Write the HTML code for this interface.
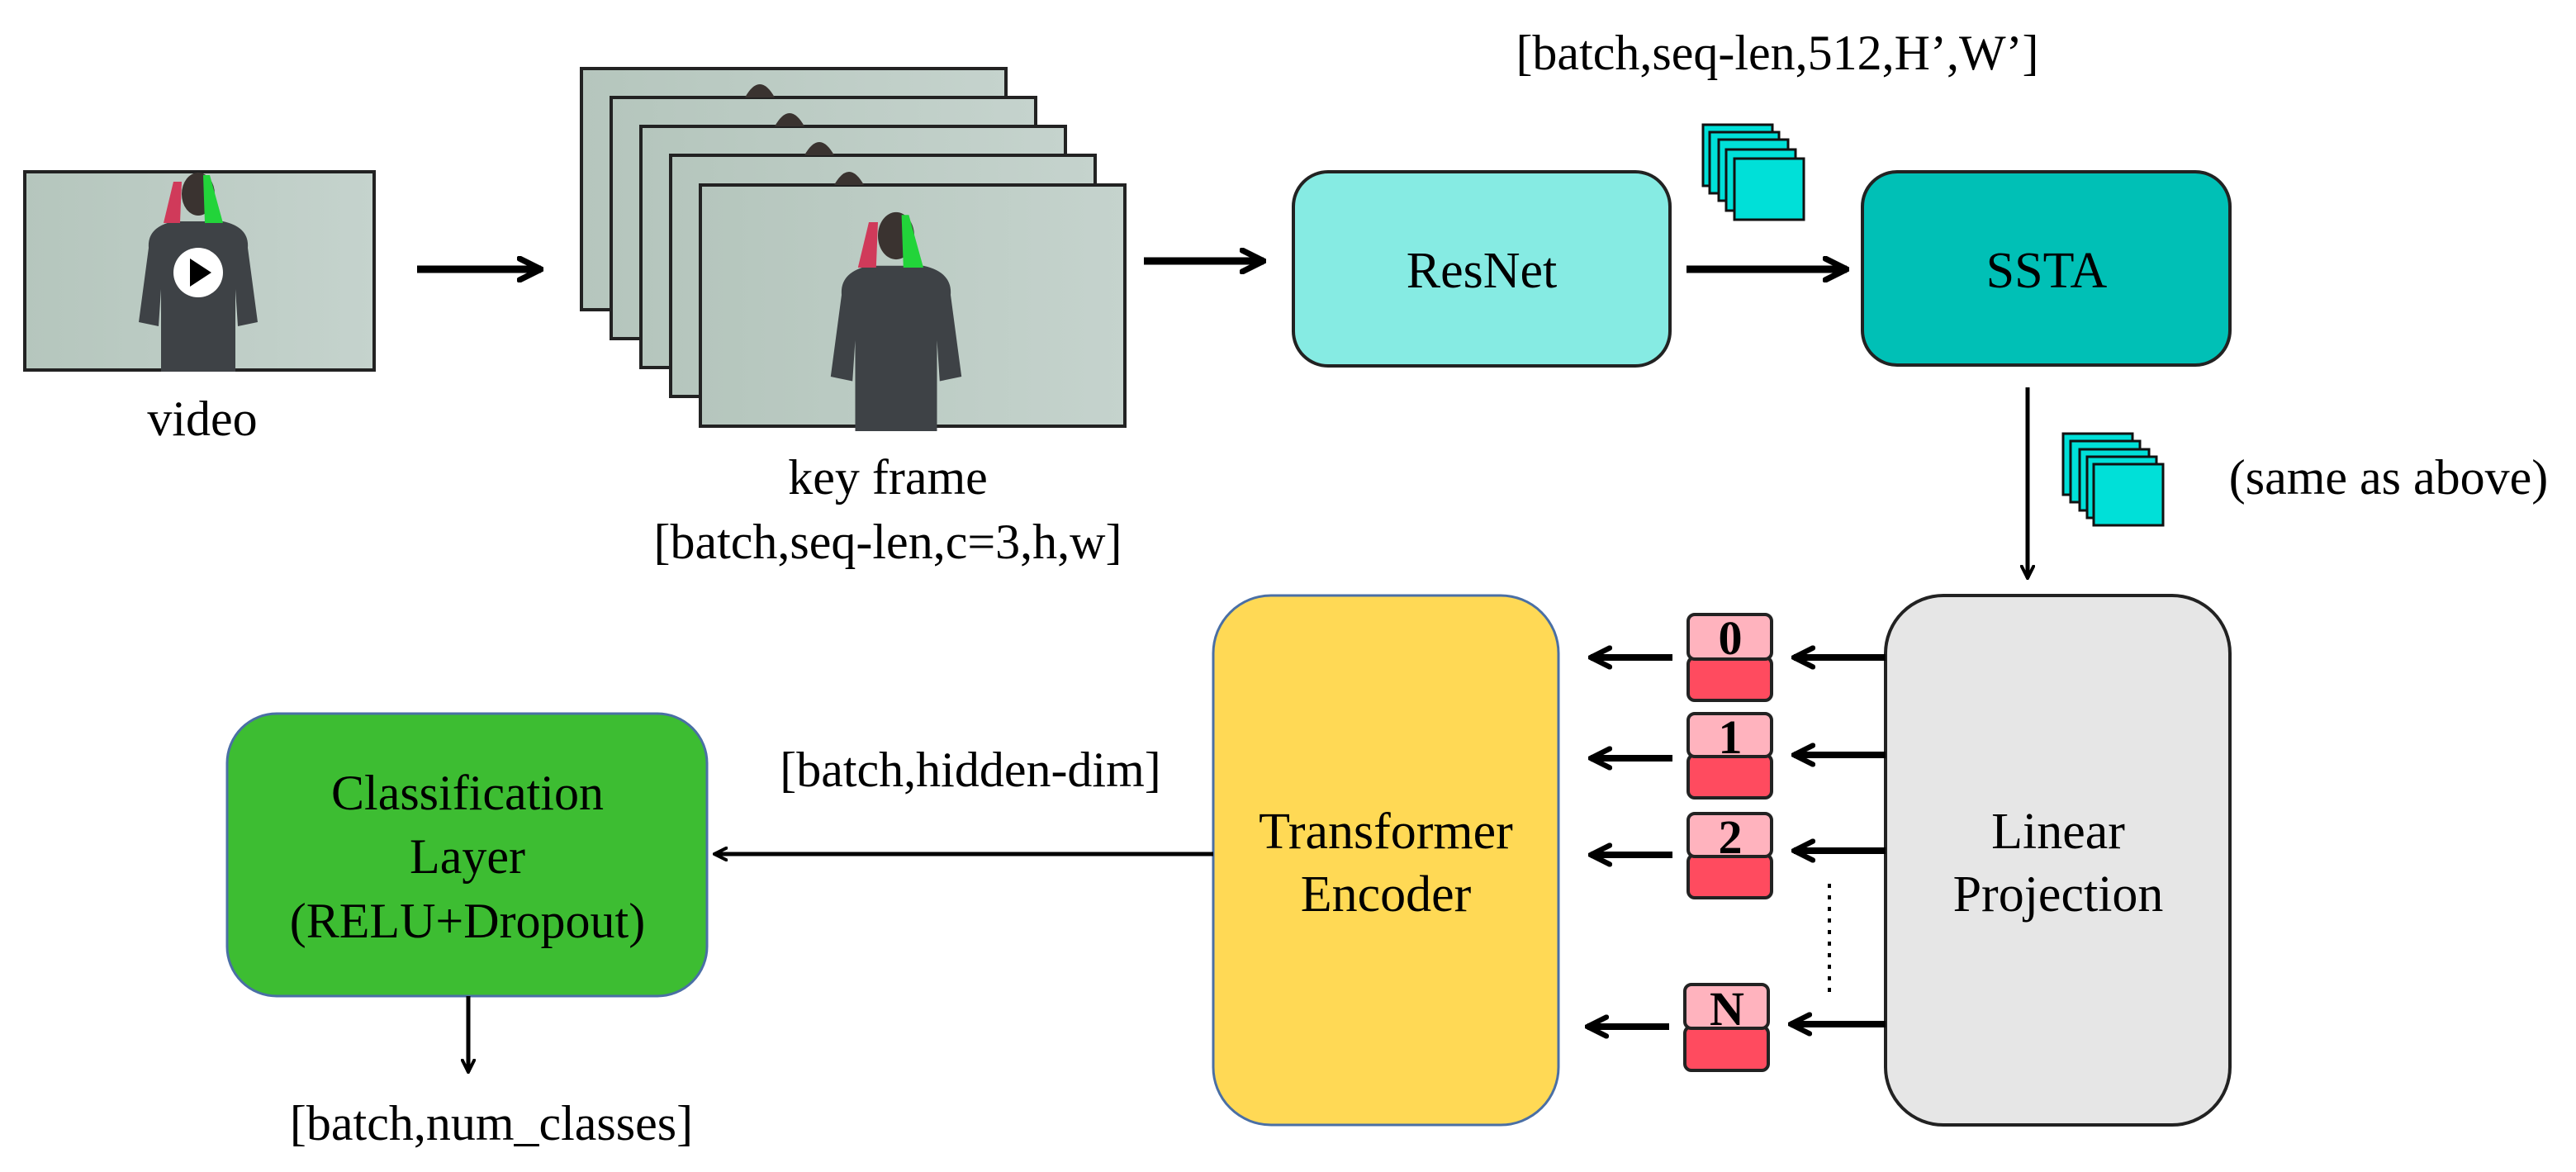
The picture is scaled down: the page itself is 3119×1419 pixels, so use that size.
<!DOCTYPE html>
<html><head><meta charset="utf-8"><style>html,body{margin:0;padding:0;background:#fff}svg{display:block}</style></head>
<body>
<svg width="3119" height="1419" viewBox="0 0 3119 1419" xmlns="http://www.w3.org/2000/svg" font-family="'Liberation Serif', serif" fill="#000">
<defs>
<linearGradient id="bg" x1="0" y1="0" x2="1" y2="0"><stop offset="0" stop-color="#b5c6bd"/><stop offset="1" stop-color="#c5d3cd"/></linearGradient>
<g id="person">
  <ellipse cx="0" cy="-95" rx="20" ry="26" fill="#3a3330"/>
  <path d="M-60,-30 Q-62,-55 -30,-62 L30,-62 Q62,-55 60,-30 L72,60 L48,65 L45,20 L45,120 L-45,120 L-45,20 L-48,65 L-72,60 Z" fill="#3e4246"/>
  <path d="M-42,-60 L-30,-110 L-20,-110 L-22,-60 Z" fill="#d03a5a"/>
  <path d="M8,-60 L6,-118 L14,-118 L30,-60 Z" fill="#22d43a"/>
</g>
<marker id="ah" viewBox="0 0 10 10" refX="9" refY="5" markerWidth="3.6" markerHeight="3.6" orient="auto"><path d="M1,1 L9,5 L1,9" fill="none" stroke="#000" stroke-width="2.2" stroke-linecap="round"/></marker>
</defs>

<!-- video -->
<rect x="30" y="208" width="423" height="240" fill="url(#bg)" stroke="#222" stroke-width="4"/>
<use href="#person" transform="translate(240,330)"/>
<circle cx="240" cy="330" r="30" fill="#fff"/>
<path d="M230,313 L256,330 L230,347 Z" fill="#000"/>
<text x="245" y="527" font-size="60" text-anchor="middle">video</text>

<line x1="505" y1="326" x2="655" y2="326" stroke="#000" stroke-width="9" marker-end="url(#ah)"/>

<!-- frames -->
<g stroke="#222" stroke-width="4">
<rect x="704" y="83" width="514" height="292" fill="url(#bg)"/>
<rect x="740" y="118" width="514" height="292" fill="url(#bg)"/>
<rect x="776" y="153" width="514" height="292" fill="url(#bg)"/>
<rect x="812" y="188" width="514" height="292" fill="url(#bg)"/>
<rect x="848" y="224" width="514" height="292" fill="url(#bg)"/>
</g>
<path d="M902,118 Q920,86 938,118 Z" fill="#3a3330"/>
<path d="M938,153 Q956,121 974,153 Z" fill="#3a3330"/>
<path d="M974,188 Q992,156 1010,188 Z" fill="#3a3330"/>
<path d="M1010,224 Q1028,192 1046,224 Z" fill="#3a3330"/>
<use href="#person" transform="translate(1085,390) scale(1.1)"/>
<text x="1075" y="598" font-size="60" text-anchor="middle">key frame</text>
<text x="1075" y="676" font-size="60" text-anchor="middle">[batch,seq-len,c=3,h,w]</text>

<line x1="1385" y1="316" x2="1530" y2="316" stroke="#000" stroke-width="9" marker-end="url(#ah)"/>

<!-- ResNet -->
<rect x="1566" y="208" width="456" height="235" rx="42" fill="#86ebe3" stroke="#222" stroke-width="4"/>
<text x="1794" y="348" font-size="62" text-anchor="middle">ResNet</text>

<text x="2152" y="84" font-size="60" text-anchor="middle">[batch,seq-len,512,H’,W’]</text>

<g fill="#00e0d8" stroke="#111" stroke-width="3">
<rect x="2062" y="151" width="84" height="74"/>
<rect x="2070" y="160" width="84" height="74"/>
<rect x="2081" y="169" width="84" height="74"/>
<rect x="2090" y="181" width="84" height="74"/>
<rect x="2100" y="192" width="84" height="74"/>
</g>

<line x1="2042" y1="326" x2="2236" y2="326" stroke="#000" stroke-width="9" marker-end="url(#ah)"/>

<!-- SSTA -->
<rect x="2255" y="208" width="445" height="234" rx="42" fill="#00c0b6" stroke="#222" stroke-width="4"/>
<text x="2478" y="348" font-size="62" text-anchor="middle">SSTA</text>

<line x1="2455" y1="469" x2="2455" y2="700" stroke="#000" stroke-width="5" marker-end="url(#ah)"/>

<g fill="#00e0d8" stroke="#111" stroke-width="3">
<rect x="2498" y="525" width="84" height="74"/>
<rect x="2507" y="534" width="84" height="74"/>
<rect x="2518" y="544" width="84" height="74"/>
<rect x="2527" y="553" width="84" height="74"/>
<rect x="2535" y="562" width="84" height="74"/>
</g>
<text x="2892" y="598" font-size="60" text-anchor="middle">(same as above)</text>

<!-- Linear Projection -->
<rect x="2283" y="721" width="417" height="641" rx="70" fill="#e6e6e6" stroke="#222" stroke-width="4"/>
<text x="2492" y="1027" font-size="62" text-anchor="middle">Linear</text>
<text x="2492" y="1103" font-size="62" text-anchor="middle">Projection</text>

<!-- tokens -->
<g stroke="#222" stroke-width="4">
<rect x="2044" y="796" width="101" height="52" rx="8" fill="#ff4b5f"/><rect x="2044" y="744" width="101" height="54" rx="8" fill="#ffb3be"/>
<rect x="2044" y="914" width="101" height="52" rx="8" fill="#ff4b5f"/><rect x="2044" y="864" width="101" height="52" rx="8" fill="#ffb3be"/>
<rect x="2044" y="1035" width="101" height="52" rx="8" fill="#ff4b5f"/><rect x="2044" y="985" width="101" height="52" rx="8" fill="#ffb3be"/>
<rect x="2040" y="1243" width="101" height="53" rx="8" fill="#ff4b5f"/><rect x="2040" y="1192" width="101" height="53" rx="8" fill="#ffb3be"/>
</g>
<g font-size="58" font-weight="bold" text-anchor="middle">
<text x="2095" y="792">0</text>
<text x="2095" y="912">1</text>
<text x="2095" y="1033">2</text>
<text x="2091" y="1241">N</text>
</g>

<g stroke="#000" stroke-width="8" marker-end="url(#ah)">
<line x1="2283" y1="796" x2="2172" y2="796"/>
<line x1="2283" y1="914" x2="2172" y2="914"/>
<line x1="2283" y1="1030" x2="2172" y2="1030"/>
<line x1="2283" y1="1240" x2="2168" y2="1240"/>
<line x1="2025" y1="796" x2="1926" y2="796"/>
<line x1="2025" y1="918" x2="1926" y2="918"/>
<line x1="2025" y1="1035" x2="1926" y2="1035"/>
<line x1="2021" y1="1243" x2="1922" y2="1243"/>
</g>
<line x1="2215" y1="1070" x2="2215" y2="1205" stroke="#000" stroke-width="4" stroke-dasharray="5,9"/>

<!-- Transformer -->
<rect x="1469" y="721" width="418" height="641" rx="70" fill="#ffd955" stroke="#4a6fa5" stroke-width="3"/>
<text x="1678" y="1027" font-size="62" text-anchor="middle">Transformer</text>
<text x="1678" y="1103" font-size="62" text-anchor="middle">Encoder</text>

<line x1="1469" y1="1034" x2="865" y2="1034" stroke="#000" stroke-width="5" marker-end="url(#ah)"/>
<text x="1175" y="952" font-size="60" text-anchor="middle">[batch,hidden-dim]</text>

<!-- Classification -->
<rect x="275" y="864" width="581" height="342" rx="60" fill="#3dbd32" stroke="#4a6fa5" stroke-width="3"/>
<text x="566" y="980" font-size="60" text-anchor="middle">Classification</text>
<text x="566" y="1057" font-size="60" text-anchor="middle">Layer</text>
<text x="566" y="1135" font-size="60" text-anchor="middle">(RELU+Dropout)</text>

<line x1="567" y1="1206" x2="567" y2="1298" stroke="#000" stroke-width="5" marker-end="url(#ah)"/>
<text x="595" y="1380" font-size="60" text-anchor="middle">[batch,num_classes]</text>
</svg>
</body></html>
